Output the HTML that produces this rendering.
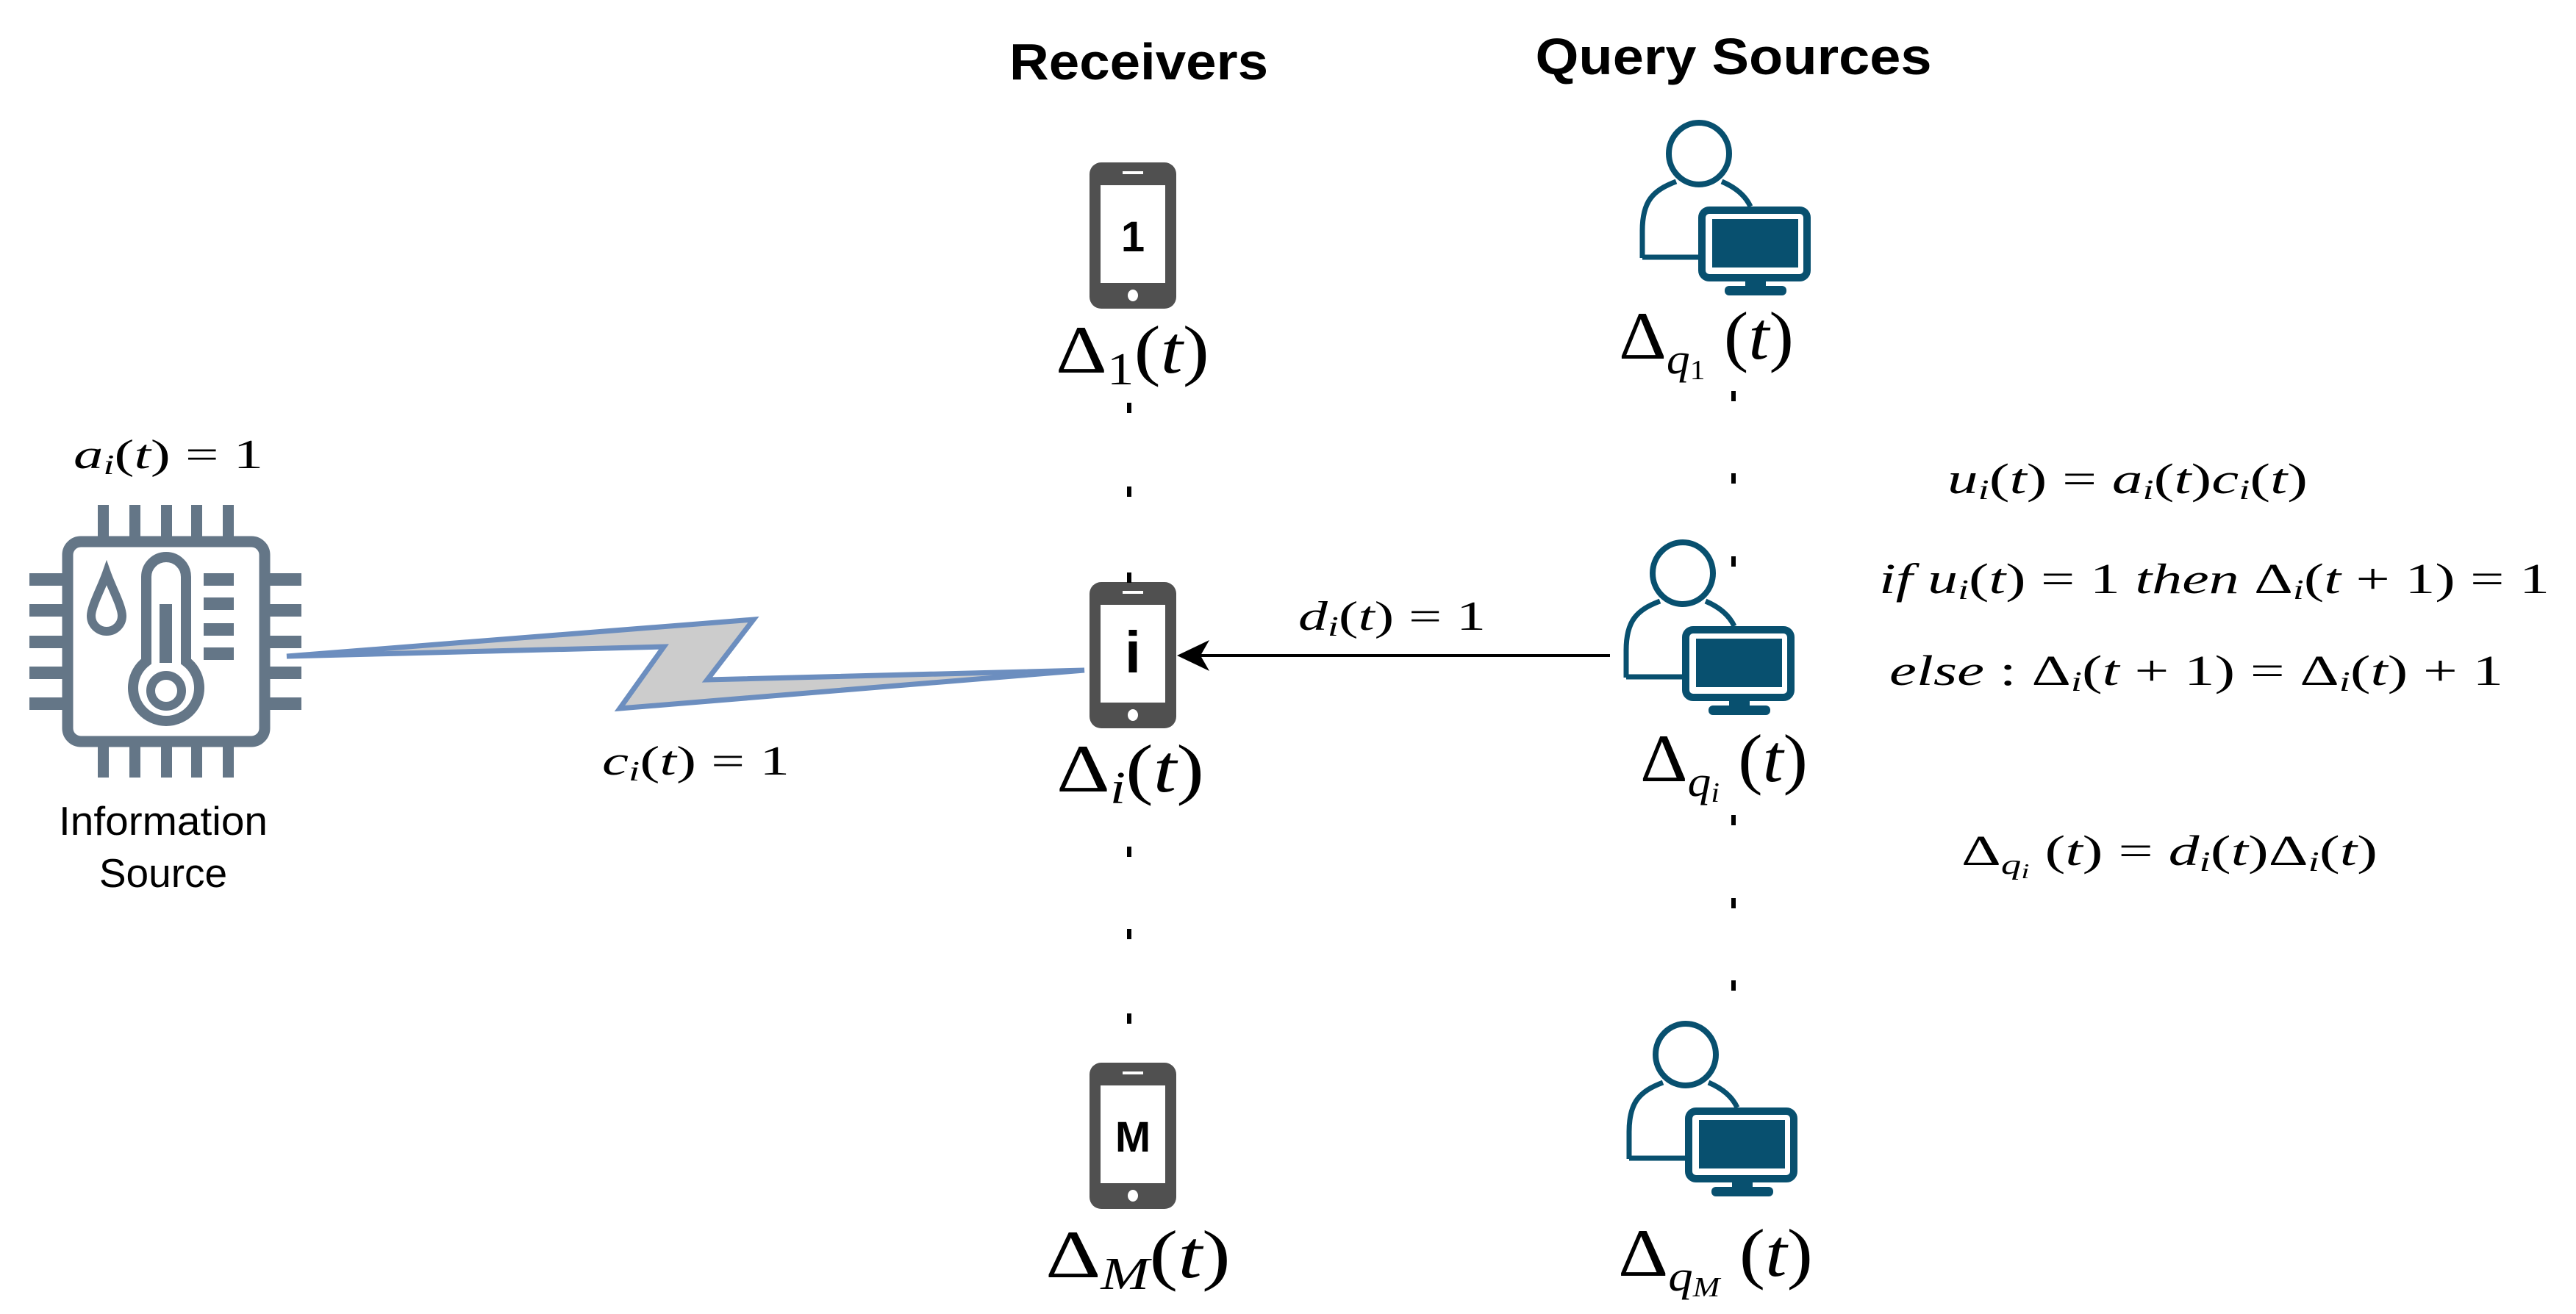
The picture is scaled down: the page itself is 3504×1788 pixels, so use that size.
<!DOCTYPE html>
<html><head><meta charset="utf-8"><style>
html,body{margin:0;padding:0;background:#fff;}
svg{display:block;}
.m{font-family:"Liberation Serif",serif;font-style:italic;}
.u{font-style:normal;}
</style></head><body>
<svg width="3504" height="1788" viewBox="0 0 3504 1788" xmlns="http://www.w3.org/2000/svg">
<defs>
<g id="phone">
<rect x="0" y="0" width="118" height="199" rx="16" fill="#505050"/>
<rect x="15" y="31" width="88" height="133" fill="#fff"/>
<rect x="45" y="12" width="28" height="4" fill="#fff"/>
<ellipse cx="59" cy="181" rx="7" ry="8" fill="#fff"/>
</g>
<g id="query" fill="none" stroke="#08506f">
<ellipse cx="83" cy="45" rx="41" ry="42" stroke-width="8"/>
<path d="M6,187 L6,150 C6,110 20,95 52,83" stroke-width="7"/>
<path d="M114,83 C135,92 147,104 153,117" stroke-width="7"/>
<path d="M6,186 L82,186" stroke-width="7"/>
<rect x="87" y="122" width="143" height="92" rx="10" stroke-width="10" fill="#fff"/>
<rect x="101" y="134" width="117" height="66" fill="#08506f" stroke="none"/>
<rect x="146" y="217" width="28" height="10" fill="#08506f" stroke="none"/>
<rect x="118" y="225" width="84" height="13" rx="6" fill="#08506f" stroke="none"/>
</g>
</defs>

<text x="1549" y="108" text-anchor="middle" font-family="Liberation Sans, sans-serif" font-weight="bold" font-size="70" textLength="352" lengthAdjust="spacingAndGlyphs">Receivers</text>
<text x="2358" y="101" text-anchor="middle" font-family="Liberation Sans, sans-serif" font-weight="bold" font-size="70" textLength="539" lengthAdjust="spacingAndGlyphs">Query Sources</text>

<g fill="#647687">
<rect x="133" y="687" width="15" height="45"/><rect x="176" y="687" width="15" height="45"/><rect x="219" y="687" width="15" height="45"/><rect x="260" y="687" width="15" height="45"/><rect x="303" y="687" width="15" height="45"/>
<rect x="133" y="1014" width="15" height="44"/><rect x="176" y="1014" width="15" height="44"/><rect x="219" y="1014" width="15" height="44"/><rect x="260" y="1014" width="15" height="44"/><rect x="303" y="1014" width="15" height="44"/>
<rect x="40" y="780" width="47" height="17"/><rect x="40" y="822" width="47" height="17"/><rect x="40" y="865" width="47" height="17"/><rect x="40" y="907" width="47" height="17"/><rect x="40" y="949" width="47" height="17"/>
<rect x="365" y="780" width="45" height="17"/><rect x="365" y="822" width="45" height="17"/><rect x="365" y="865" width="45" height="17"/><rect x="365" y="907" width="45" height="17"/><rect x="365" y="949" width="45" height="17"/>
<rect x="277" y="780" width="41" height="17"/><rect x="277" y="813" width="41" height="17"/><rect x="277" y="848" width="41" height="17"/><rect x="277" y="881" width="41" height="17"/>
<rect x="217" y="822" width="17" height="80"/>
</g>
<rect x="92" y="737" width="268" height="272" rx="18" fill="none" stroke="#647687" stroke-width="15"/>
<path d="M199,900 L199,785 A27,27 0 0 1 253,785 L253,900 A45,45 0 1 1 199,900 Z" fill="none" stroke="#647687" stroke-width="14"/>
<circle cx="226" cy="940" r="21" fill="none" stroke="#647687" stroke-width="12"/>
<path d="M145,780 C138,800 124,825 124,838 A21,21 0 0 0 166,838 C166,825 152,800 145,780 Z" fill="none" stroke="#647687" stroke-width="12"/>
<text x="222" y="1136" text-anchor="middle" font-family="Liberation Sans, sans-serif" font-size="55" textLength="284" lengthAdjust="spacingAndGlyphs">Information</text>
<text x="222" y="1207" text-anchor="middle" font-family="Liberation Sans, sans-serif" font-size="55">Source</text>

<polygon points="390,893 1025,843 962,925 1475,912 843,964 903,880" fill="#cccccc" stroke="#6c8ebf" stroke-width="7" stroke-linejoin="miter"/>

<use href="#phone" x="1482" y="221"/>
<use href="#phone" x="1482" y="792"/>
<use href="#phone" x="1482" y="1446"/>
<text x="1541" y="342" text-anchor="middle" font-family="Liberation Sans, sans-serif" font-weight="bold" font-size="58">1</text>
<text x="1541" y="915" text-anchor="middle" font-family="Liberation Sans, sans-serif" font-weight="bold" font-size="80">i</text>
<text x="1541" y="1567" text-anchor="middle" font-family="Liberation Sans, sans-serif" font-weight="bold" font-size="58">M</text>

<use href="#query" x="2228" y="164"/>
<use href="#query" x="2206" y="735"/>
<use href="#query" x="2210" y="1390"/>

<g fill="#000">
<rect x="1533" y="548" width="6" height="14"/><rect x="1533" y="662" width="6" height="14"/><rect x="1533" y="779" width="6" height="14"/>
<rect x="1533" y="1152" width="6" height="14"/><rect x="1533" y="1264" width="6" height="14"/><rect x="1533" y="1379" width="6" height="14"/>
<rect x="2355" y="532" width="6" height="14"/><rect x="2355" y="644" width="6" height="14"/><rect x="2355" y="757" width="6" height="14"/>
<rect x="2355" y="1109" width="6" height="14"/><rect x="2355" y="1222" width="6" height="14"/><rect x="2355" y="1334" width="6" height="14"/>
</g>

<line x1="2190" y1="892" x2="1630" y2="892" stroke="#000" stroke-width="4"/>
<path d="M1601,892 L1645,871 L1633,892 L1645,913 Z" fill="#000"/>

<g class="m" fill="#000">
<text x="100" y="637" font-size="56" textLength="258" lengthAdjust="spacingAndGlyphs">a<tspan font-size="38" dy="8">i</tspan><tspan class="u" dy="-8">(</tspan>t<tspan class="u">) = 1</tspan></text>
<text x="819" y="1054" font-size="56" textLength="255" lengthAdjust="spacingAndGlyphs">c<tspan font-size="38" dy="8">i</tspan><tspan class="u" dy="-8">(</tspan>t<tspan class="u">) = 1</tspan></text>
<text x="1766" y="857" font-size="56" textLength="255" lengthAdjust="spacingAndGlyphs">d<tspan font-size="38" dy="8">i</tspan><tspan class="u" dy="-8">(</tspan>t<tspan class="u">) = 1</tspan></text>

<text x="1436" y="507" font-size="92" textLength="209" lengthAdjust="spacingAndGlyphs"><tspan class="u">Δ</tspan><tspan class="u" font-size="62" dy="16">1</tspan><tspan class="u" dy="-16">(</tspan>t<tspan class="u">)</tspan></text>
<text x="1437" y="1077" font-size="92" textLength="201" lengthAdjust="spacingAndGlyphs"><tspan class="u">Δ</tspan><tspan font-size="62" dy="16">i</tspan><tspan class="u" dy="-16">(</tspan>t<tspan class="u">)</tspan></text>
<text x="1422" y="1738" font-size="92" textLength="252" lengthAdjust="spacingAndGlyphs"><tspan class="u">Δ</tspan><tspan font-size="62" dy="16">M</tspan><tspan class="u" dy="-16">(</tspan>t<tspan class="u">)</tspan></text>

<text x="2202" y="488" font-size="92" textLength="238" lengthAdjust="spacingAndGlyphs"><tspan class="u">Δ</tspan><tspan font-size="58" dy="20">q</tspan><tspan class="u" font-size="38" dy="8">1</tspan><tspan class="u" dy="-28"> (</tspan>t<tspan class="u">)</tspan></text>
<text x="2231" y="1063" font-size="92" textLength="228" lengthAdjust="spacingAndGlyphs"><tspan class="u">Δ</tspan><tspan font-size="58" dy="20">q</tspan><tspan font-size="38" dy="8">i</tspan><tspan class="u" dy="-28"> (</tspan>t<tspan class="u">)</tspan></text>
<text x="2201" y="1736" font-size="92" textLength="265" lengthAdjust="spacingAndGlyphs"><tspan class="u">Δ</tspan><tspan font-size="58" dy="20">q</tspan><tspan font-size="38" dy="8">M</tspan><tspan class="u" dy="-28"> (</tspan>t<tspan class="u">)</tspan></text>

<text x="2649" y="671" font-size="58" textLength="490" lengthAdjust="spacingAndGlyphs">u<tspan font-size="38" dy="8">i</tspan><tspan class="u" dy="-8">(</tspan>t<tspan class="u">) = </tspan>a<tspan font-size="38" dy="8">i</tspan><tspan class="u" dy="-8">(</tspan>t<tspan class="u">)</tspan>c<tspan font-size="38" dy="8">i</tspan><tspan class="u" dy="-8">(</tspan>t<tspan class="u">)</tspan></text>
<text x="2556" y="807" font-size="58" textLength="912" lengthAdjust="spacingAndGlyphs">if u<tspan font-size="38" dy="8">i</tspan><tspan class="u" dy="-8">(</tspan>t<tspan class="u">) = 1 </tspan>then <tspan class="u">Δ</tspan><tspan font-size="38" dy="8">i</tspan><tspan class="u" dy="-8">(</tspan>t<tspan class="u"> + 1) = 1</tspan></text>
<text x="2570" y="932" font-size="58" textLength="835" lengthAdjust="spacingAndGlyphs">else<tspan class="u"> :  Δ</tspan><tspan font-size="38" dy="8">i</tspan><tspan class="u" dy="-8">(</tspan>t<tspan class="u"> + 1) = Δ</tspan><tspan font-size="38" dy="8">i</tspan><tspan class="u" dy="-8">(</tspan>t<tspan class="u">) + 1</tspan></text>
<text x="2668" y="1177" font-size="58" textLength="566" lengthAdjust="spacingAndGlyphs"><tspan class="u">Δ</tspan><tspan font-size="38" dy="12">q</tspan><tspan font-size="28" dy="6">i</tspan><tspan class="u" dy="-18"> (</tspan>t<tspan class="u">) = </tspan>d<tspan font-size="38" dy="8">i</tspan><tspan class="u" dy="-8">(</tspan>t<tspan class="u">)Δ</tspan><tspan font-size="38" dy="8">i</tspan><tspan class="u" dy="-8">(</tspan>t<tspan class="u">)</tspan></text>
</g>
</svg>
</body></html>
